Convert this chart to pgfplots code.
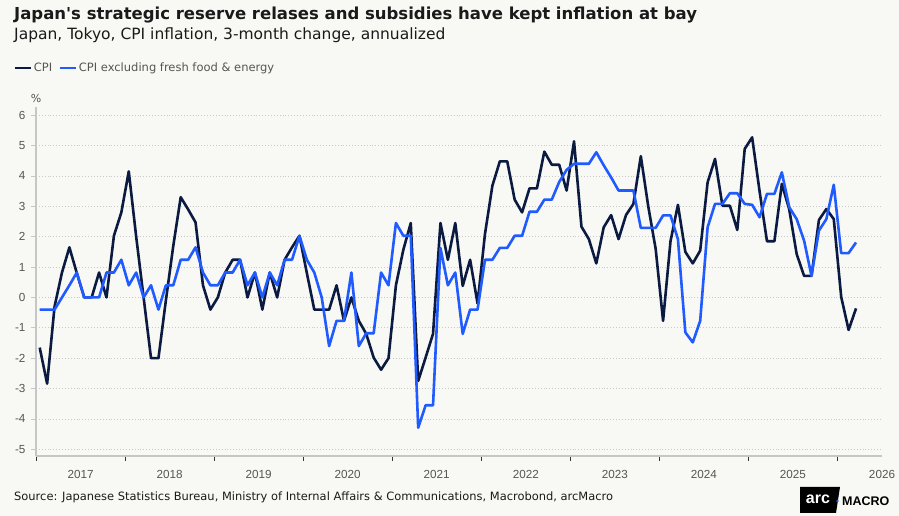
\documentclass[border=0pt]{standalone}
\usepackage{pgfplots}
\pgfplotsset{compat=1.18}
\usepackage{pgfplotstable}
\usepackage{fontspec}
\setmainfont{DejaVu Sans}
\newfontfamily\numfont{Liberation Sans}
\definecolor{bg}{HTML}{F8F8F4}
\definecolor{cpi}{HTML}{0B1A40}
\definecolor{core}{HTML}{1F5BFF}
\definecolor{txt}{HTML}{1A1A1A}
\definecolor{ticktxt}{HTML}{555555}
\definecolor{axgray}{HTML}{C6C6C6}
\definecolor{gridc}{HTML}{CACACA}

% k = months since Jan 2017 (0 = Jan 2017)
\pgfplotstableread{
k cpi core
0 -1.65 -0.40
1 -2.84 -0.40
2 -0.30 -0.40
3 0.82 0.00
4 1.65 0.40
5 0.80 0.82
6 0.00 0.00
7 0.00 0.00
8 0.82 0.00
9 0.00 0.82
10 2.03 0.82
11 2.80 1.24
12 4.15 0.40
13 2.00 0.82
14 0.00 0.00
15 -2.00 0.40
16 -2.00 -0.40
17 -0.10 0.40
18 1.70 0.40
19 3.30 1.24
20 2.90 1.24
21 2.47 1.65
22 0.40 0.82
23 -0.40 0.40
24 0.00 0.40
25 0.82 0.82
26 1.24 0.82
27 1.24 1.24
28 0.00 0.40
29 0.82 0.82
30 -0.40 0.00
31 0.82 0.82
32 0.00 0.40
33 1.24 1.24
34 1.65 1.24
35 2.03 2.03
36 0.80 1.24
37 -0.40 0.82
38 -0.40 0.00
39 -0.40 -1.60
40 0.40 -0.77
41 -0.77 -0.77
42 0.00 0.82
43 -0.77 -1.60
44 -1.20 -1.18
45 -1.98 -1.18
46 -2.38 0.82
47 -2.00 0.40
48 0.40 2.45
49 1.57 2.03
50 2.45 2.03
51 -2.75 -4.29
52 -1.98 -3.55
53 -1.20 -3.55
54 2.45 1.63
55 1.24 0.40
56 2.45 0.82
57 0.38 -1.20
58 1.24 -0.40
59 -0.20 -0.40
60 2.09 1.24
61 3.68 1.24
62 4.48 1.63
63 4.48 1.63
64 3.22 2.03
65 2.80 2.03
66 3.59 2.82
67 3.59 2.82
68 4.80 3.22
69 4.37 3.22
70 4.37 3.80
71 3.52 4.20
72 5.14 4.40
73 2.33 4.40
74 1.92 4.40
75 1.12 4.78
76 2.31 4.35
77 2.71 3.95
78 1.92 3.52
79 2.71 3.52
80 3.08 3.52
81 4.65 2.29
82 3.00 2.29
83 1.60 2.29
84 -0.77 2.70
85 1.85 2.70
86 3.05 1.92
87 1.50 -1.15
88 1.12 -1.48
89 1.54 -0.77
90 3.79 2.31
91 4.56 3.08
92 3.02 3.08
93 3.02 3.43
94 2.22 3.43
95 4.89 3.08
96 5.27 3.05
97 3.50 2.64
98 1.85 3.41
99 1.85 3.41
100 3.74 4.12
101 2.90 2.97
102 1.43 2.58
103 0.71 1.87
104 0.71 0.71
105 2.55 2.20
106 2.91 2.58
107 2.58 3.71
108 0.02 1.46
109 -1.07 1.46
110 -0.36 1.81
}\datatable

\begin{document}
\begin{tikzpicture}
\useasboundingbox (0pt,0pt) rectangle (899pt,516pt);
\fill[bg] (0pt,0pt) rectangle (899pt,516pt);
\node[anchor=base west, inner sep=0pt, text=txt, font=\bfseries\fontsize{16.5}{20}\selectfont] at (14pt,496pt) {Japan\textquotesingle s strategic reserve relases and subsidies have kept inflation at bay};
\node[anchor=base west, inner sep=0pt, text=txt, font=\fontsize{15.5}{18}\selectfont] at (14pt,476pt) {Japan, Tokyo, CPI inflation, 3-month change, annualized};
\node[anchor=center, inner sep=0pt, text=ticktxt, font=\fontsize{11}{13}\selectfont] at (36pt,417pt) {\%};
\node[anchor=base west, inner sep=0pt, text=txt, font=\fontsize{11.45}{14}\selectfont] at (14pt,15pt) {Source: Japanese Statistics Bureau, Ministry of Internal Affairs \& Communications, Macrobond, arcMacro};
% logo
\fill[black] (800pt,3pt) -- (836pt,3pt) -- (840pt,29pt) -- (800pt,29pt) -- cycle;
\node[anchor=center, inner sep=0pt, text=white, font=\numfont\bfseries\fontsize{16}{16}\selectfont] at (818pt,17pt) {arc};
\fill[core] (837.5pt,15pt) circle (1.3pt);
\node[anchor=west, inner sep=0pt, text=black, font=\numfont\bfseries\fontsize{12.5}{14}\selectfont] at (842pt,15pt) {MACRO};

\begin{axis}[
  at={(36pt,60pt)}, anchor=south west, scale only axis,
  width=846pt, height=349pt,
  xmin=-0.5, xmax=113.5, ymin=-5.22, ymax=6.27,
  axis x line*=bottom, axis y line*=left,
  axis line style={axgray, line width=1.6pt},
  xtick={-0.5,11.5,23.5,35.5,47.5,59.5,71.5,83.5,95.5,107.5},
  xticklabels={},
  extra x ticks={5.5,17.5,29.5,41.5,53.5,65.5,77.5,89.5,101.5,113.5},
  extra x tick labels={2017,2018,2019,2020,2021,2022,2023,2024,2025,2026},
  extra x tick style={major tick length=0pt, tick style={draw=none}},
  ytick={-5,-4,...,6},
  tick align=outside, major tick length=5pt,
  xtick style={draw=black!80, line width=0.8pt},
  ytick style={draw=axgray, line width=0.8pt},
  ymajorgrids,
  grid style={gridc, line width=0.7pt, dash pattern=on 0.9pt off 2pt},
  tick label style={font=\numfont\fontsize{11.7}{14}\selectfont, text=ticktxt},
  yticklabel style={xshift=-2pt},
  xticklabel style={yshift=-11pt},
  /pgf/number format/assume math mode=true,
  clip=false,
  legend style={at={(-0.027,1.112)}, anchor=west, draw=none, fill=none,
    legend columns=2, font=\fontsize{11.5}{14}\selectfont, text=ticktxt,
    /tikz/every even column/.append style={column sep=4pt},
    inner sep=0pt},
  legend image code/.code={\draw[#1, line width=2.6pt] (0pt,0pt) -- (16pt,0pt);},
]
\addplot[cpi, line width=2.6pt, line join=round] table[x=k, y=cpi] {\datatable};
\addlegendentry{CPI}
\addplot[core, line width=2.6pt, line join=round] table[x=k, y=core] {\datatable};
\addlegendentry{CPI excluding fresh food \& energy}
\end{axis}
\end{tikzpicture}
\end{document}
